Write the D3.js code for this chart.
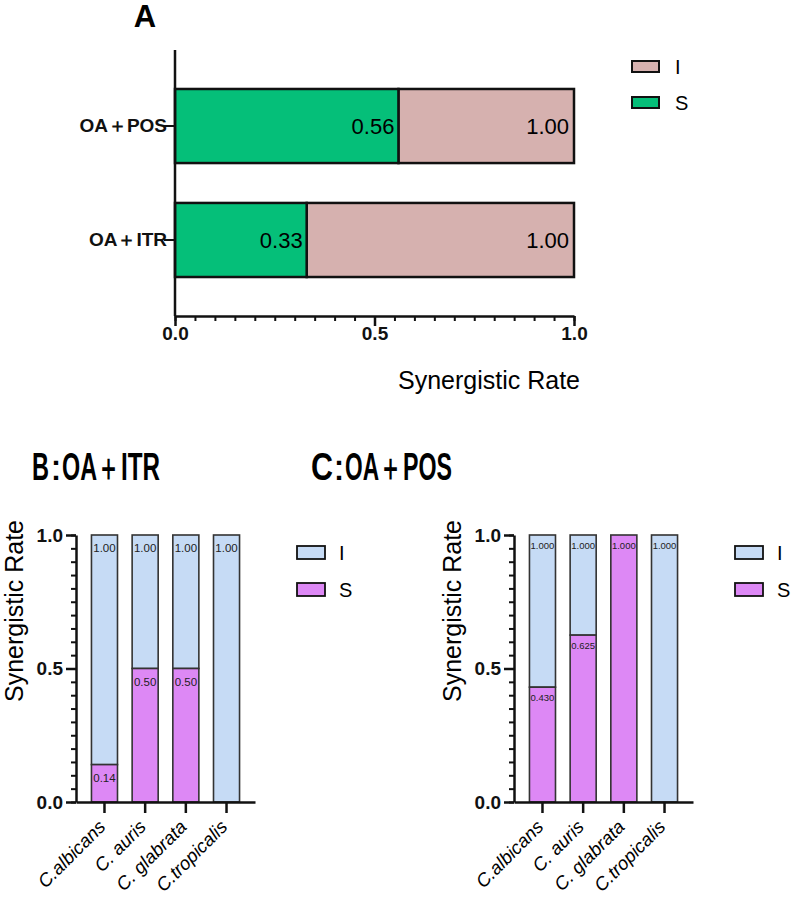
<!DOCTYPE html>
<html>
<head>
<meta charset="utf-8">
<script src="https://cdn.jsdelivr.net/npm/d3@7"></script>
<style>
  body { margin: 0; background: #fff; }
  svg { font-family: "Liberation Sans", Arial, sans-serif; }
</style>
</head>
<body>
<svg width="793" height="897"></svg>
<script>
// data
const comboNames = ['OA＋POS', 'OA＋ITR']
const comboS = [0.56, 0.33]
const comboTotal = [1.00, 1.00]

const species = ['C.albicans', 'C. auris', 'C. glabrata', 'C.tropicalis']
const itrS = [0.14, 0.50, 0.50, 0]
const itrTotal = [1.00, 1.00, 1.00, 1.00]
const posS = [0.430, 0.625, 1.000, 0]
const posTotal = [1.000, 1.000, 1.000, 1.000]

const legendKeys = ['I', 'S']
const majorTicks = [0, 0.5, 1]

const svg = d3.select('svg')
const fam = '"Liberation Sans", Arial, sans-serif'

// ---------- panel A ----------
const colA = { I: '#d6b1af', S: '#05bf79' }

const xA = d3.scaleLinear().domain([0, 1]).range([175, 574])
const yA = d3.scaleBand().domain(comboNames).range([50, 316])
              .paddingInner(0.35).paddingOuter(0.342)

const gA = svg.append('g')

comboNames.forEach((name, i) => {
    let y = yA(name), h = yA.bandwidth()
    gA.append('rect')
        .attr('x', xA(comboS[i])).attr('y', y)
        .attr('width', xA(comboTotal[i]) - xA(comboS[i])).attr('height', h)
        .attr('fill', colA.I).attr('stroke', '#111').attr('stroke-width', 2.5)
    gA.append('rect')
        .attr('x', xA(0)).attr('y', y)
        .attr('width', xA(comboS[i]) - xA(0)).attr('height', h)
        .attr('fill', colA.S).attr('stroke', '#111').attr('stroke-width', 2.5)
    gA.append('text')
        .attr('x', xA(comboS[i]) - 4).attr('y', y + h / 2)
        .attr('dy', '0.36em').attr('text-anchor', 'end')
        .attr('font-size', 22).text(comboS[i].toFixed(2))
    gA.append('text')
        .attr('x', xA(comboTotal[i]) - 5).attr('y', y + h / 2)
        .attr('dy', '0.36em').attr('text-anchor', 'end')
        .attr('font-size', 22).text(comboTotal[i].toFixed(2))
})

// x axis A
gA.append('g')
    .attr('transform', 'translate(0,316)')
    .call(d3.axisBottom(xA).tickValues(d3.range(0, 1.0001, 0.05)).tickSize(5).tickFormat(''))
    .call(g => g.select('.domain').remove())
    .call(g => g.selectAll('line').attr('stroke', '#111').attr('stroke-width', 2))
gA.append('g')
    .attr('transform', 'translate(0,316)')
    .call(d3.axisBottom(xA).tickValues(majorTicks).tickSize(10).tickSizeOuter(0).tickPadding(1)
          .tickFormat(d3.format('.1f')))
    .call(g => g.select('.domain').attr('stroke', '#111').attr('stroke-width', 2.5))
    .call(g => g.selectAll('line').attr('stroke', '#111').attr('stroke-width', 2.5))
    .call(g => g.selectAll('text').attr('font-size', 19).attr('font-weight', 'bold')
                .attr('fill', '#111').attr('font-family', fam))

// y axis A
gA.append('line')
    .attr('x1', 175).attr('x2', 175).attr('y1', 50).attr('y2', 316)
    .attr('stroke', '#111').attr('stroke-width', 2.5)
gA.append('g')
    .attr('transform', 'translate(175,0)')
    .call(d3.axisLeft(yA).tickSize(11).tickPadding(-3))
    .call(g => g.select('.domain').remove())
    .call(g => g.selectAll('line').attr('stroke', '#111').attr('stroke-width', 2))
    .call(g => g.selectAll('text').attr('font-size', 19).attr('font-weight', 'bold')
                .attr('fill', '#111').attr('font-family', fam))

gA.append('text').attr('x', 489).attr('y', 389).attr('text-anchor', 'middle')
    .attr('font-size', 25).text('Synergistic Rate')
gA.append('text').attr('x', 145).attr('y', 27).attr('text-anchor', 'middle')
    .attr('font-size', 31).attr('font-weight', 'bold').text('A')

legendKeys.forEach((k, i) => {
    gA.append('rect').attr('x', 632).attr('y', 61 + i * 36).attr('width', 27).attr('height', 11)
        .attr('fill', colA[k]).attr('stroke', '#111').attr('stroke-width', 2)
    gA.append('text').attr('x', 675).attr('y', 66.5 + i * 36).attr('dy', '0.36em')
        .attr('font-size', 20).text(k)
})

// ---------- panels B and C ----------
const colBC = { I: '#c6dbf5', S: '#dd88f5' }

// title pieces: [text, x, width]; width 0 = keep the glyph as is (x is its centre)
const titleB = [['B', 32, 17], ['：', 56, 0], ['OA', 62, 35], ['＋', 97, 23], ['ITR', 121, 39]]
const titleC = [['C', 311, 22], ['：', 339, 0], ['OA', 345, 34], ['＋', 379, 23], ['POS', 403, 49]]

function drawPanel(ox, titleParts, sVals, totals, digits, labelSize, labelOff) {
    const g = svg.append('g')
    const x = d3.scaleBand().domain(species).range([ox, ox + 179])
                .paddingInner(0.36).paddingOuter(0.38)
    const y = d3.scaleLinear().domain([0, 1]).range([802, 535])
    const bw = x.bandwidth()

    species.forEach((sp, i) => {
        let bx = x(sp)
        if (totals[i] > sVals[i]) {
            g.append('rect').attr('x', bx).attr('y', y(totals[i]))
                .attr('width', bw).attr('height', y(sVals[i]) - y(totals[i]))
                .attr('fill', colBC.I).attr('stroke', '#333').attr('stroke-width', 1.6)
        }
        if (sVals[i] > 0) {
            g.append('rect').attr('x', bx).attr('y', y(sVals[i]))
                .attr('width', bw).attr('height', y(0) - y(sVals[i]))
                .attr('fill', colBC.S).attr('stroke', '#333').attr('stroke-width', 1.6)
            g.append('text').attr('x', bx + bw / 2).attr('y', y(sVals[i]) + labelOff)
                .attr('text-anchor', 'middle').attr('font-size', labelSize).attr('fill', '#222')
                .text(sVals[i].toFixed(digits))
        }
        if (totals[i] > sVals[i]) {
            g.append('text').attr('x', bx + bw / 2).attr('y', y(totals[i]) + labelOff)
                .attr('text-anchor', 'middle').attr('font-size', labelSize).attr('fill', '#222')
                .text(totals[i].toFixed(digits))
        }
    })

    // y axis
    g.append('g')
        .attr('transform', 'translate(' + ox + ',0)')
        .call(d3.axisLeft(y).tickValues(d3.range(0, 1.0001, 0.05)).tickSize(5).tickFormat(''))
        .call(gg => gg.select('.domain').remove())
        .call(gg => gg.selectAll('line').attr('stroke', '#111').attr('stroke-width', 2))
    g.append('g')
        .attr('transform', 'translate(' + ox + ',0)')
        .call(d3.axisLeft(y).tickValues(majorTicks).tickSize(10).tickSizeOuter(0).tickPadding(3)
              .tickFormat(d3.format('.1f')))
        .call(gg => gg.select('.domain').attr('stroke', '#111').attr('stroke-width', 2.5))
        .call(gg => gg.selectAll('line').attr('stroke', '#111').attr('stroke-width', 2.5))
        .call(gg => gg.selectAll('text').attr('font-size', 19).attr('font-weight', 'bold')
                    .attr('fill', '#111').attr('font-family', fam))

    // x axis
    g.append('g')
        .attr('transform', 'translate(0,802)')
        .call(d3.axisBottom(x).tickSize(11).tickSizeOuter(0).tickFormat(''))
        .call(gg => gg.select('.domain').attr('stroke', '#111').attr('stroke-width', 2.5))
        .call(gg => gg.selectAll('line').attr('stroke', '#111').attr('stroke-width', 2.5))
    species.forEach(sp => {
        let cx = x(sp) + bw / 2 + 2
        g.append('text')
            .attr('transform', 'translate(' + cx + ',828) rotate(-45)')
            .attr('text-anchor', 'end').attr('font-size', 18.5).attr('font-style', 'italic')
            .text(sp)
    })

    g.append('text')
        .attr('transform', 'translate(' + (ox - 53) + ',' + 611 + ') rotate(-90)')
        .attr('text-anchor', 'middle').attr('font-size', 25).text('Synergistic Rate')

    let t = g.append('text').attr('y', 480)
        .attr('font-size', 38).attr('font-weight', 'bold')
    titleParts.forEach(p => {
        let ts = t.append('tspan')
        if (p[2] > 0) {
            ts.attr('x', p[1]).attr('textLength', p[2]).attr('lengthAdjust', 'spacingAndGlyphs')
        } else {
            ts.attr('x', p[1] - 19).attr('font-weight', 'normal')
        }
        ts.text(p[0])
    })

    legendKeys.forEach((k, i) => {
        g.append('rect').attr('x', ox + 221).attr('y', 546 + i * 37).attr('width', 28).attr('height', 13)
            .attr('fill', colBC[k]).attr('stroke', '#111').attr('stroke-width', 1.8)
        g.append('text').attr('x', ox + 263).attr('y', 552.5 + i * 37).attr('dy', '0.36em')
            .attr('font-size', 20).text(k)
    })
}

drawPanel(76, titleB, itrS, itrTotal, 2, 11.5, 17)
drawPanel(514, titleC, posS, posTotal, 3, 9.5, 14)
</script>
</body>
</html>
